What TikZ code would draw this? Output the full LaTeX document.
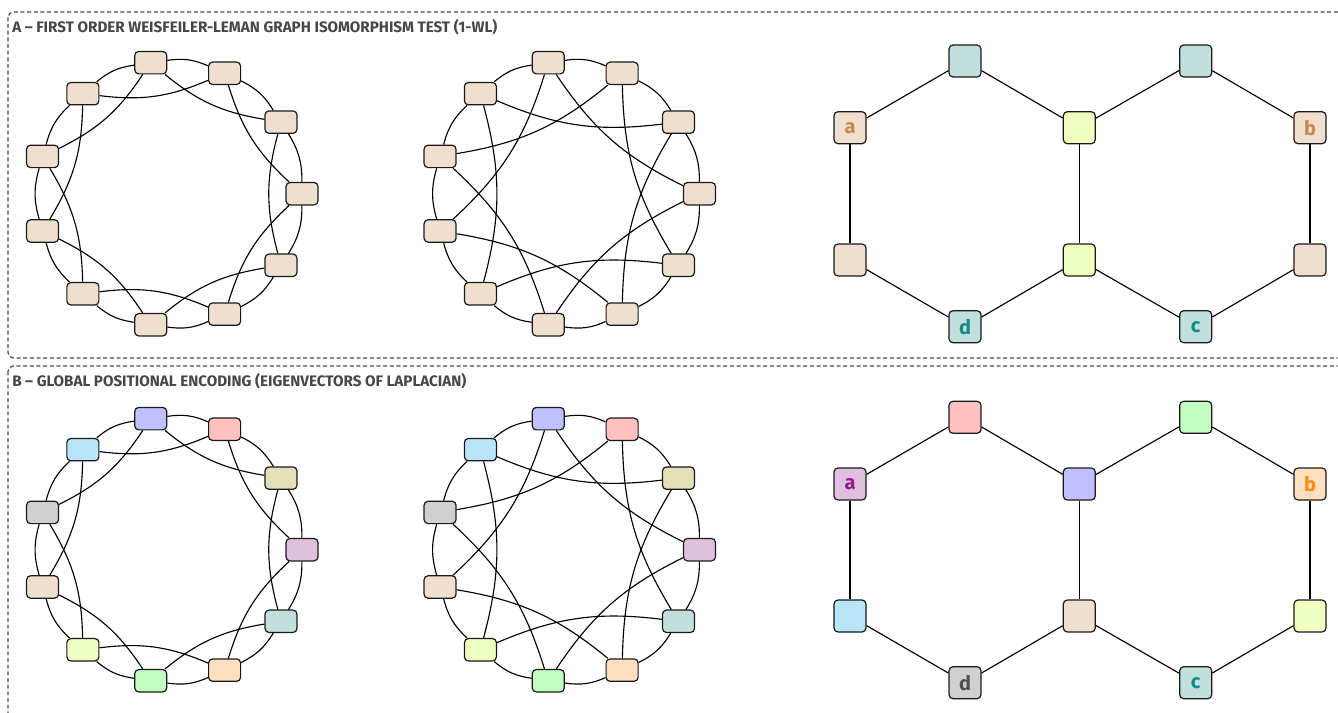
\documentclass[tikz,border=0pt]{standalone}
\usepackage{fontspec}
\setmainfont{Fira Sans}
\usetikzlibrary{calc}
\definecolor{cbeige}{HTML}{EFDFCF}
\definecolor{cteal}{HTML}{C0DFDD}
\definecolor{cygreen}{HTML}{EFFFC0}
\definecolor{clav}{HTML}{C0C0FF}
\definecolor{cpink}{HTML}{FFC0C0}
\definecolor{colive}{HTML}{E3DFB8}
\definecolor{clilac}{HTML}{DFC0DF}
\definecolor{cpeach}{HTML}{FFDFC0}
\definecolor{cgreen}{HTML}{C0FFC0}
\definecolor{cgray}{HTML}{D0D0D0}
\definecolor{cblue}{HTML}{B8E5F8}
\definecolor{lbrown}{HTML}{C8884C}
\definecolor{lteal}{HTML}{148A8A}
\definecolor{lpurple}{HTML}{8E1C8E}
\definecolor{lorange}{HTML}{FF8A10}
\definecolor{ldgray}{HTML}{505050}
\colorlet{colA0}{cbeige}\colorlet{colA1}{cbeige}\colorlet{colA2}{cbeige}
\colorlet{colA3}{cbeige}\colorlet{colA4}{cbeige}\colorlet{colA5}{cbeige}
\colorlet{colA6}{cbeige}\colorlet{colA7}{cbeige}\colorlet{colA8}{cbeige}
\colorlet{colA9}{cbeige}\colorlet{colA10}{cbeige}
\colorlet{colB0}{clilac}\colorlet{colB1}{colive}\colorlet{colB2}{cpink}
\colorlet{colB3}{clav}\colorlet{colB4}{cblue}\colorlet{colB5}{cgray}
\colorlet{colB6}{cbeige}\colorlet{colB7}{cygreen}\colorlet{colB8}{cgreen}
\colorlet{colB9}{cpeach}\colorlet{colB10}{cteal}
\begin{document}
\begin{tikzpicture}[x=0.75pt,y=-0.75pt,
  gnode/.style={draw=black!90, line width=0.9pt, rounded corners=3pt,
    minimum width=24pt, minimum height=16.8pt, inner sep=0pt},
  hnode/.style={draw=black!90, line width=0.9pt, rounded corners=3pt,
    minimum width=24pt, minimum height=24pt, inner sep=0pt,
    font=\bfseries\fontsize{15}{15}\selectfont},
  edge/.style={line width=0.85pt, draw=black},
  frame/.style={draw=black!70, line width=0.95pt, dash pattern=on 3pt off 2pt, rounded corners=4pt},
  ttl/.style={anchor=base west, text=black!72, font=\bfseries\fontsize{11.4}{12}\selectfont, inner sep=0pt}
]
\useasboundingbox (0,0) rectangle (1338,713);
\clip (0,0) rectangle (1338,713);
\draw[frame] (8,12) rectangle (1400,358);
\draw[frame] (8,366) rectangle (1400,760);
\node[ttl] (titleA) at (12,32.5) {A – FIRST ORDER WEISFEILER-LEMAN GRAPH ISOMORPHISM TEST (1-WL)};
\node[ttl] (titleB) at (12,386.5) {B – GLOBAL POSITIONAL ENCODING (EIGENVECTORS OF LAPLACIAN)};
% circulant graphs
\foreach \p/\dy in {A/0,B/356}{
  \foreach \g/\cx/\off in {1/169.6/2,2/567.1/3}{
    \foreach \k in {0,...,10}{
      \node[gnode, fill=col\p\k] (\p\g-\k) at ($(\cx,193.7+\dy)+({-\k*360/11}:132.4)$) {};
    }
    \foreach \k in {0,...,10}{
      \pgfmathtruncatemacro\kn{mod(\k+1,11)}
      \pgfmathtruncatemacro\kc{mod(\k+\off,11)}
      \draw[edge] (\p\g-\k) to[bend right=16] (\p\g-\kn);
      \draw[edge] (\p\g-\k) to[bend left=15] (\p\g-\kc);
    }
  }
}
% hexagon graph A
\node[hnode, fill=cbeige, text=lbrown] (Aha) at (850,127.7) {a};
\node[hnode, fill=cteal] (Aht1) at (965,61) {};
\node[hnode, fill=cygreen] (Ahct) at (1079.3,127.7) {};
\node[hnode, fill=cteal] (Aht2) at (1195.7,61) {};
\node[hnode, fill=cbeige, text=lbrown] (Ahb) at (1310,127.7) {b};
\node[hnode, fill=cbeige] (Ahbr) at (1310,260) {};
\node[hnode, fill=cteal, text=lteal] (Ahc) at (1195.7,326.7) {c};
\node[hnode, fill=cygreen] (Ahcb) at (1079.3,260) {};
\node[hnode, fill=cteal, text=lteal] (Ahd) at (965,326.7) {d};
\node[hnode, fill=cbeige] (Ahbl) at (850,260) {};
% hexagon graph B
\node[hnode, fill=clilac, text=lpurple] (Bha) at (850,484) {a};
\node[hnode, fill=cpink] (Bht1) at (965,417.3) {};
\node[hnode, fill=clav] (Bhct) at (1079.3,484) {};
\node[hnode, fill=cgreen] (Bht2) at (1195.7,417.3) {};
\node[hnode, fill=cpeach, text=lorange] (Bhb) at (1310,484) {b};
\node[hnode, fill=cygreen] (Bhbr) at (1310,616) {};
\node[hnode, fill=cteal, text=lteal] (Bhc) at (1195.7,682.7) {c};
\node[hnode, fill=cbeige] (Bhcb) at (1079.3,616) {};
\node[hnode, fill=cgray, text=ldgray] (Bhd) at (965,682.7) {d};
\node[hnode, fill=cblue] (Bhbl) at (850,616) {};
\foreach \p in {A,B}{
  \draw[edge] (\p ha) -- (\p ht1);
  \draw[edge] (\p ht1) -- (\p hct);
  \draw[edge] (\p hct) -- (\p ht2);
  \draw[edge] (\p ht2) -- (\p hb);
  \draw[edge] (\p hb) -- (\p hbr);
  \draw[edge] (\p hbr) -- (\p hc);
  \draw[edge] (\p hc) -- (\p hcb);
  \draw[edge] (\p hcb) -- (\p hd);
  \draw[edge] (\p hd) -- (\p hbl);
  \draw[edge] (\p hbl) -- (\p ha);
  \draw[edge] (\p hct) -- (\p hcb);
}
\end{tikzpicture}
\end{document}
